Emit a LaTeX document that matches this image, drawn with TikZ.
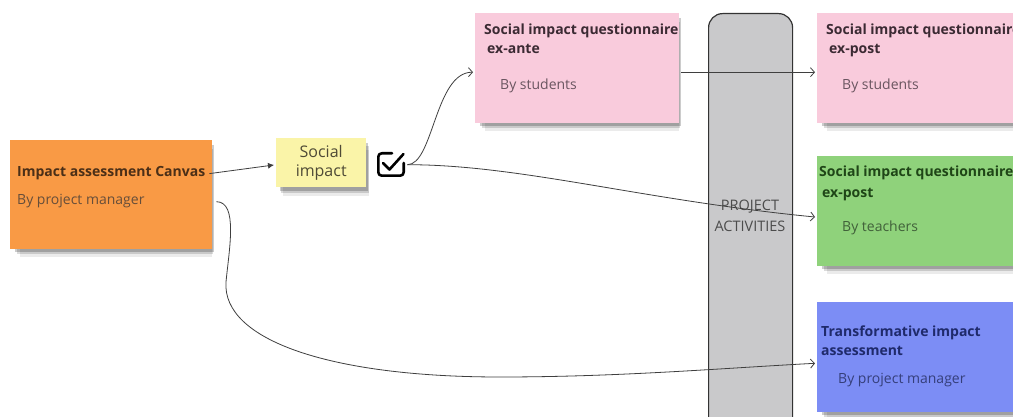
\documentclass[tikz,border=0pt]{standalone}
\usepackage{fontspec}
\setmainfont{Open Sans}
\usetikzlibrary{arrows.meta, shadows}

\definecolor{noteorange}{HTML}{F99A45}
\definecolor{noteyellow}{HTML}{FAF4A8}
\definecolor{notepink}{HTML}{F9CBDC}
\definecolor{notegreen}{HTML}{8FD27B}
\definecolor{noteblue}{HTML}{7C8DF5}
\definecolor{activgrey}{HTML}{C9C9CB}
\definecolor{linkgrey}{HTML}{3F3F3F}
\definecolor{orangeink}{HTML}{4B2F17}
\definecolor{yellowink}{HTML}{4F4A36}
\definecolor{pinkink}{HTML}{3B2A33}
\definecolor{pinksub}{HTML}{6A5560}
\definecolor{greenink}{HTML}{1F4517}
\definecolor{blueink}{HTML}{1F2A6B}

\begin{document}
\begin{tikzpicture}
  [
    x=1pt, y=-1pt,
    note/.style={anchor=north west, inner sep=0pt,
      drop shadow={shadow xshift=5pt, shadow yshift=-11pt, shadow scale=0.95, opacity=0.08, fill=black},
      drop shadow={shadow xshift=4pt, shadow yshift=-7pt, shadow scale=0.97, opacity=0.14, fill=black},
      drop shadow={shadow xshift=3pt, shadow yshift=-4pt, shadow scale=0.985, opacity=0.2, fill=black}},
    title/.style={anchor=base west, inner sep=0pt, font=\bfseries\fontsize{14}{17}\selectfont},
    byline/.style={anchor=base west, inner sep=0pt, font=\fontsize{14}{17}\selectfont},
    link/.style={draw=linkgrey, line width=0.8pt,
      -{Straight Barb[length=4pt,width=9pt]}, shorten >=2pt}
  ]
  \path[use as bounding box, fill=white] (0,0) rectangle (1013,417);

  % impact assessment canvas
  \node[note, fill=noteorange, minimum width=202pt, minimum height=109pt] (canvas) at (10,140) {};
  \node[title, text=orangeink] (canvasT) at (17,177) {Impact assessment Canvas};
  \node[byline, text=orangeink!85] (canvasB) at (17,205) {By project manager};

  % social impact
  \node[note, fill=noteyellow, minimum width=90pt, minimum height=49pt, align=center,
    font=\fontsize{16}{19}\selectfont, text=yellowink] (social) at (276,138) {Social\\impact};

  % check box
  \node[anchor=north west, inner sep=0pt, minimum width=28pt, minimum height=25pt] (chk) at (377,152) {};
  \begin{scope}[shift={(chk.north west)}, line width=2.6pt, line cap=round, line join=round]
    \draw[rounded corners=3.5pt] (15,1.3) -- (1.3,1.3) -- (1.3,23.7) -- (26.7,23.7) -- (26.7,11);
    \draw (6,11) -- (12.5,17.5) -- (26.5,2);
  \end{scope}

  % ex-ante
  \node[note, fill=notepink, minimum width=204pt, minimum height=110pt] (exante) at (475,13) {};
  \node[title, text=pinkink] (exanteT) at (484,35) {Social impact questionnaire};
  \node[title, text=pinkink] (exanteT2) at (487,54) {ex-ante};
  \node[byline, text=pinksub] (exanteB) at (500,90) {By students};

  % project activities
  \node[anchor=north west, fill=activgrey, draw=black!80, line width=1.2pt, rounded corners=14pt,
    minimum width=84pt, minimum height=430pt] (activ) at (708,13) {};
  \node[anchor=base, text=black!70, font=\fontsize{14.5}{17}\selectfont] (activT) at (750,211) {PROJECT};
  \node[anchor=base, text=black!70, font=\fontsize{14.5}{17}\selectfont] (activT2) at (750,232) {ACTIVITIES};

  % ex-post, students
  \node[note, fill=notepink, minimum width=220pt, minimum height=110pt] (expost) at (817,13) {};
  \node[title, text=pinkink] (expostT) at (826,35) {Social impact questionnaire};
  \node[title, text=pinkink] (expostT2) at (829,54) {ex-post};
  \node[byline, text=pinksub] (expostB) at (842,90) {By students};

  % ex-post, teachers
  \node[note, fill=notegreen, minimum width=220pt, minimum height=110pt] (teachers) at (817,156) {};
  \node[title, text=greenink] (teachersT) at (819,177) {Social impact questionnaire};
  \node[title, text=greenink] (teachersT2) at (822,197) {ex-post};
  \node[byline, text=greenink!85] (teachersB) at (842,232) {By teachers};

  % transformative
  \node[note, fill=noteblue, minimum width=220pt, minimum height=110pt] (transf) at (817,302) {};
  \node[title, text=blueink] (transfT) at (821,336) {Transformative impact};
  \node[title, text=blueink] (transfT2) at (821,355) {assessment};
  \node[byline, text=blueink!90] (transfB) at (838,383) {By project manager};

  % links
  \draw[link, -{Latex[length=6pt,width=6pt]}] ([xshift=4pt]canvasT.east) -- ([yshift=-2pt]social.west);
  \draw[link] ([xshift=2pt]chk.east) .. controls +(26,0) and +(-40,0) .. ([yshift=-4pt]exante.west);
  \draw[link] ([xshift=2pt]chk.east) .. controls +(113,0) and +(-175,-17) .. ([yshift=-6pt]teachers.west);
  \draw[link] ([xshift=2pt, yshift=-4pt]exante.east) -- ([yshift=-4pt]expost.west);
  \draw[link] ([xshift=4pt, yshift=-7pt]canvas.east)
    .. controls +(22,0) and +(3,-32) .. (226,282)
    .. controls +(-4,58) and +(-170,0) .. (500,377)
    .. controls +(120,0) and +(-95,5) .. ([yshift=-6pt]transf.west);
\end{tikzpicture}
\end{document}
